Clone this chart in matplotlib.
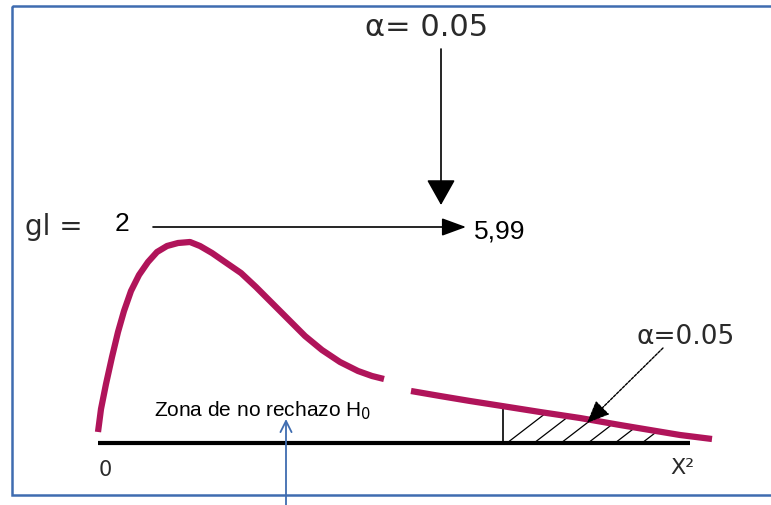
import numpy as np
import matplotlib
matplotlib.use("Agg")
import matplotlib.pyplot as plt
from matplotlib.patches import Rectangle, Polygon

# ---- data (diagram coordinates, pixel-like units) ----
curve_left_x = [98, 101, 106, 112, 118, 124, 131, 139, 148, 157, 167, 178, 190, 200, 212, 225, 241, 256, 271, 288, 305, 322, 340, 358, 372, 384]
curve_left_y = [433, 410, 385, 358, 333, 312, 292, 276, 263, 253, 247, 244, 243, 247, 254, 263, 274, 288, 303, 320, 337, 351, 363, 372, 377, 380]
curve_right_x = [411, 440, 470, 502, 540, 580, 620, 650, 680, 712]
curve_right_y = [392, 397, 402, 407, 413, 419, 426, 431, 436, 440]
crit_x = 503
tail_end_x = 668
baseline_x = [98, 690]
baseline_y = 444

top_alpha_label = "α= 0.05"
gl_label = "gl ="
gl_value = "2"
crit_label = "5,99"
tail_alpha_label = "α=0.05"
zone_label = "Zona de no rechazo H$_0$"
zero_label = "0"
axis_label = "X²"

curve_color = "#B0145A"
border_color = "#3F6CB0"
text_color = "#2a2a2a"

fig = plt.figure(figsize=(7.71, 5.06), dpi=100)
ax = fig.add_axes([0, 0, 1, 1])
ax.set_xlim(0, 771)
ax.set_ylim(506, 0)
ax.axis("off")

# border
ax.add_patch(Rectangle((12, 7), 800, 489, fill=False, edgecolor=border_color, lw=1.8))

# hatched tail (lines clipped to the area under the curve)
xs = np.linspace(crit_x, tail_end_x, 60)
ys = np.interp(xs, curve_right_x, curve_right_y)
poly = np.vstack([np.column_stack([xs, ys]), [[tail_end_x, baseline_y], [crit_x, baseline_y]]])
clip = Polygon(poly, closed=True, facecolor="none", edgecolor="none")
ax.add_patch(clip)
spacing = 27
for x0 in np.arange(crit_x + 4, tail_end_x + 40, spacing):
    ln, = ax.plot([x0, x0 + 52], [baseline_y, baseline_y - 40], color="black", lw=0.9)
    ln.set_clip_path(clip)
ax.plot([crit_x, crit_x], [np.interp(crit_x, curve_right_x, curve_right_y), baseline_y], color="black", lw=1.2)

# baseline
ax.plot(baseline_x, [baseline_y, baseline_y], color="black", lw=3, solid_capstyle="butt")

# curve
ax.plot(curve_left_x, curve_left_y, color=curve_color, lw=4.5, solid_capstyle="butt", solid_joinstyle="round")
ax.plot(curve_right_x, curve_right_y, color=curve_color, lw=4.5, solid_capstyle="butt", solid_joinstyle="round")

# top annotations
ax.text(427, 27, top_alpha_label, fontsize=22, ha="center", va="center", color=text_color, family="DejaVu Sans")
ax.annotate("", xy=(441, 206), xytext=(441, 50),
            arrowprops=dict(arrowstyle="-|>,head_length=1.6,head_width=0.9", color="black", lw=1.2, shrinkA=0, shrinkB=0))
ax.annotate("", xy=(466, 228), xytext=(153, 228),
            arrowprops=dict(arrowstyle="-|>,head_length=1.5,head_width=0.55", color="black", lw=1.2, shrinkA=0, shrinkB=0))
ax.text(25, 227, gl_label, fontsize=20, ha="left", va="center", color=text_color, family="DejaVu Sans")
ax.text(115, 224, gl_value, fontsize=19, ha="left", va="center", family=["Liberation Sans", "DejaVu Sans"])
ax.text(474, 232, crit_label, fontsize=19, ha="left", va="center", family=["Liberation Sans", "DejaVu Sans"])

# tail annotation
ax.text(636, 337, tail_alpha_label, fontsize=19, ha="left", va="center", color=text_color, family="DejaVu Sans")
ax.annotate("", xy=(587, 424), xytext=(663, 349),
            arrowprops=dict(arrowstyle="-|>,head_length=1.4,head_width=0.6", color="black", lw=1.0,
                            linestyle=(0, (2, 1)), shrinkA=0, shrinkB=0))

# zone label + arrow
ax.text(154, 411, zone_label, fontsize=15, ha="left", va="center", family=["Liberation Sans", "DejaVu Sans"])
ax.annotate("", xy=(286, 420), xytext=(286, 506),
            arrowprops=dict(arrowstyle="->,head_length=0.8,head_width=0.4", color=border_color, lw=1.3, shrinkA=0, shrinkB=0))

ax.text(105, 470, zero_label, fontsize=15, ha="center", va="center", color=text_color)
ax.text(682, 468, axis_label, fontsize=16, ha="center", va="center", color=text_color)

fig.savefig("out.png", dpi=100)
